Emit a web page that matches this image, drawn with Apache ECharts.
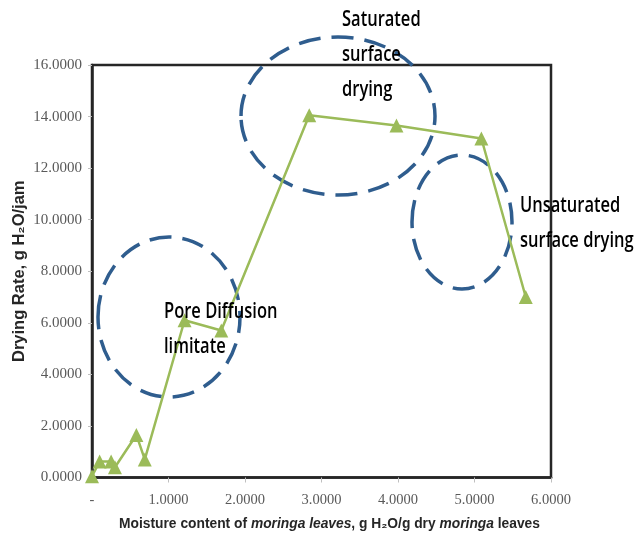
<!DOCTYPE html>
<html>
<head>
<meta charset="utf-8">
<script src="https://cdn.jsdelivr.net/npm/echarts@6/dist/echarts.min.js"></script>
<style>
html,body{margin:0;padding:0;background:#fff;}
#c{width:634px;height:542px;}
</style>
</head>
<body>
<div id="c"></div>
<script>
// Moisture content (g H2O / g dry moringa leaves)
const moisture = [0.00, 0.10, 0.25, 0.30, 0.58, 0.69, 1.21, 1.69, 2.84, 3.98, 5.09, 5.67];
// Drying rate (g H2O / jam)
const dryingRate = [0.05, 0.62, 0.62, 0.40, 1.65, 0.70, 6.10, 5.70, 14.05, 13.65, 13.15, 7.00];
const xTicks = [0, 1, 2, 3, 4, 5, 6];
const yTicks = [0, 2, 4, 6, 8, 10, 12, 14, 16];
const annotations = [
  { lines: ['Pore Diffusion', 'limitate'] },
  { lines: ['Saturated', 'surface', 'drying'] },
  { lines: ['Unsaturated', 'surface drying'] }
];

const chart = echarts.init(document.getElementById('c'), null, { renderer: 'canvas' });
const annoFont = "600 22px 'Open Sans', 'Noto Sans', sans-serif";
const ellipseStyle = { fill: 'none', stroke: '#2f5d8e', lineWidth: 3.5, lineDash: [22, 11] };
const annoText = (i, x, y) => ({
  type: 'text', x: x, y: y, scaleX: 0.75, z: 10,
  style: { x: 0, y: 0, text: annotations[i].lines.join('\n'), font: annoFont, fill: '#000',
           lineHeight: 35, textAlign: 'left', textVerticalAlign: 'top' }
});

const option = {
  animation: false,
  backgroundColor: '#ffffff',
  grid: {
    left: 92, right: 83, top: 65, bottom: 64.5,
    show: true, borderColor: '#262626', borderWidth: 2.5, backgroundColor: 'transparent'
  },
  xAxis: {
    type: 'value', min: xTicks[0], max: xTicks[xTicks.length - 1], interval: 1,
    axisLine: { show: true, lineStyle: { color: '#262626', width: 2.5 } },
    axisTick: { show: true, inside: false, length: 5, lineStyle: { color: '#bfbfbf', width: 1 } },
    splitLine: { show: false },
    axisLabel: {
      margin: 15, color: '#595959', fontSize: 14.5,
      fontFamily: "'Liberation Serif', 'DejaVu Serif', serif",
      formatter: v => v === 0 ? '-' : v.toFixed(4)
    },
    name: '{a|Moisture content of }{i|moringa leaves}{a|, g H₂O/g dry }{i|moringa}{a| leaves}',
    nameLocation: 'middle', nameGap: 40, nameMoveOverlap: false,
    nameTextStyle: {
      padding: [0, 0, 0, 16],
      rich: {
        a: { fontSize: 13.8, fontWeight: 'bold', color: '#262626', fontFamily: "'Liberation Sans', sans-serif" },
        i: { fontSize: 13.8, fontWeight: 'bold', fontStyle: 'italic', color: '#262626', fontFamily: "'Liberation Sans', sans-serif" }
      }
    }
  },
  yAxis: {
    type: 'value', min: yTicks[0], max: yTicks[yTicks.length - 1], interval: 2,
    axisLine: { show: true, lineStyle: { color: '#262626', width: 2.5 } },
    axisTick: { show: true, inside: false, length: 4, lineStyle: { color: '#bfbfbf', width: 1 } },
    splitLine: { show: false },
    axisLabel: {
      margin: 10, color: '#595959', fontSize: 15,
      fontFamily: "'Liberation Serif', 'DejaVu Serif', serif",
      formatter: v => v.toFixed(4)
    },
    name: 'Drying Rate, g H₂O/jam',
    nameLocation: 'middle', nameGap: 64, nameRotate: 90, nameMoveOverlap: false,
    nameTextStyle: { fontSize: 16.5, fontWeight: 'bold', color: '#262626', fontFamily: "'Liberation Sans', sans-serif" }
  },
  series: [{
    type: 'line',
    data: moisture.map((x, i) => [x, dryingRate[i]]),
    symbol: 'triangle', symbolSize: 14,
    lineStyle: { color: '#9bbb59', width: 2.5 },
    itemStyle: { color: '#9bbb59' },
    z: 5
  }],
  graphic: [
    { type: 'ellipse', shape: { cx: 169, cy: 317, rx: 71, ry: 80 }, style: ellipseStyle, z: 1 },
    { type: 'ellipse', shape: { cx: 338, cy: 116, rx: 97, ry: 79 }, style: ellipseStyle, z: 1 },
    { type: 'ellipse', shape: { cx: 462, cy: 222, rx: 50, ry: 67 }, style: ellipseStyle, z: 1 },
    annoText(0, 164, 294),
    annoText(1, 342, 2.5),
    annoText(2, 520, 188)
  ]
};
chart.setOption(option);
</script>
</body>
</html>
